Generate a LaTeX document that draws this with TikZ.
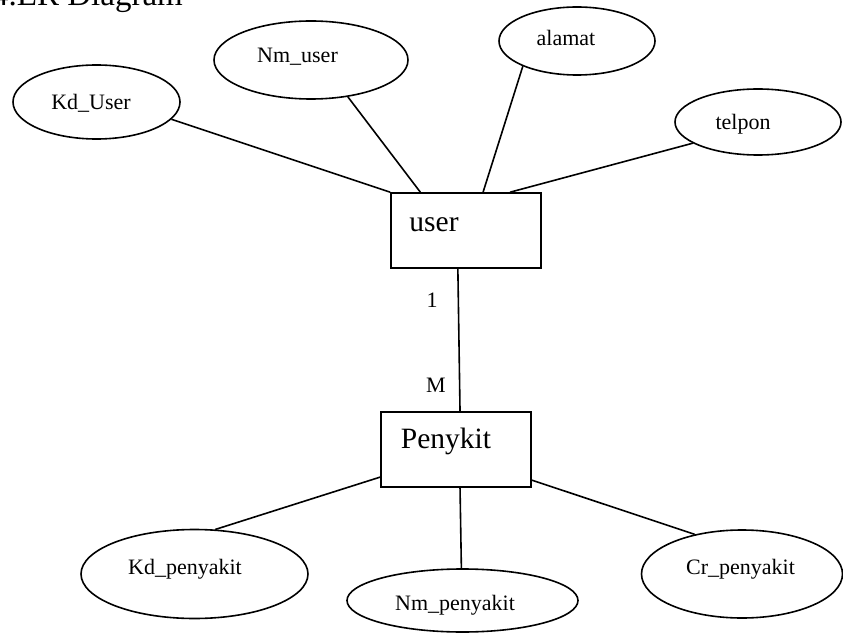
\documentclass[tikz,border=0pt]{standalone}
\usepackage{fontspec}
\setmainfont{Liberation Serif}
\usetikzlibrary{shapes.geometric}
\begin{document}
\begin{tikzpicture}[x=1pt,y=-1pt,
  conn/.style={line width=1.6pt},
  attr/.style={draw,line width=1.6pt,ellipse,inner sep=0pt},
  attrtext/.style={anchor=base,inner sep=0pt,font=\fontsize{22}{24}\selectfont},
  entity/.style={draw,line width=1.6pt,rectangle,minimum width=150pt,minimum height=75pt,inner sep=0pt},
  enttext/.style={anchor=base,inner sep=0pt,font=\fontsize{29.5}{32}\selectfont},
  card/.style={anchor=base,inner sep=0pt,font=\fontsize{22}{24}\selectfont}]
\clip (0,0) rectangle (843,636);
\fill[white] (0,0) rectangle (843,636);

% heading
\node[anchor=base west,inner sep=0pt,font=\fontsize{33}{36}\selectfont] (title) at (-8,6) {4.ER Diagram};

% entities
\node[entity] (user) at (466,230.5) {};
\node[enttext] (usertxt) at (434,232) {user};
\node[entity] (penykit) at (456,449.5) {};
\node[enttext] (penykittxt) at (446,448) {Penykit};

% attributes of user
\node[attr,minimum width=167pt,minimum height=74pt] (kduser) at (96.5,102) {};
\node[attrtext] (kdusertxt) at (91,110) {Kd\_User};
\node[attr,minimum width=194pt,minimum height=78pt] (nmuser) at (311,60) {};
\node[attrtext] (nmusertxt) at (297.5,63) {Nm\_user};
\node[attr,minimum width=156pt,minimum height=68pt] (alamat) at (577,41) {};
\node[attrtext] (alamattxt) at (566,46) {alamat};
\node[attr,minimum width=166pt,minimum height=66pt] (telpon) at (758,122) {};
\node[attrtext] (telpontxt) at (743,130) {telpon};

% attributes of Penykit
\node[attr,minimum width=227pt,minimum height=89pt] (kdpenyakit) at (194.5,574) {};
\node[attrtext] (kdpenyakittxt) at (185,574) {Kd\_penyakit};
\node[attr,minimum width=231pt,minimum height=63pt] (nmpenyakit) at (462.5,600.5) {};
\node[attrtext] (nmpenyakittxt) at (455,610) {Nm\_penyakit};
\node[attr,minimum width=201pt,minimum height=88pt] (crpenyakit) at (742,574) {};
\node[attrtext] (crpenyakittxt) at (740.5,574) {Cr\_penyakit};

% cardinalities
\node[card] (one) at (432,308) {1};
\node[card] (many) at (436,392) {M};

% connectors
\draw[conn] (kduser.-13) -- (user.north west);
\draw[conn] (nmuser.-45) -- (user.140.8);
\draw[conn] (alamat.205.7) -- (user.66.9);
\draw[conn] (telpon.198.4) -- (user.41.8);
\draw[conn] (user.258) -- (penykit.84);
\draw[conn] (penykit.200.1) -- (kdpenyakit.65.6);
\draw[conn] (penykit.276) -- (nmpenyakit.92);
\draw[conn] (penykit.-22.1) -- (crpenyakit.140.4);
\end{tikzpicture}
\end{document}
